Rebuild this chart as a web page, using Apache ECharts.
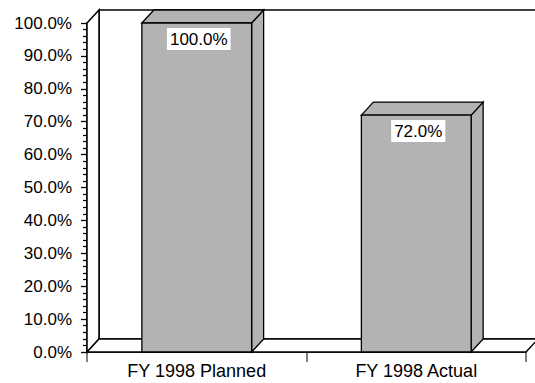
<!DOCTYPE html>
<html>
<head>
<meta charset="utf-8">
<script src="https://cdn.jsdelivr.net/npm/echarts@6/dist/echarts.min.js"></script>
<style>
  html, body { margin: 0; padding: 0; background: #fff; }
  #chart { width: 535px; height: 383px; }
</style>
</head>
<body>
<div id="chart"></div>
<script>
// Planned vs. actual share for fiscal year 1998
const categories = ['FY 1998 Planned', 'FY 1998 Actual'];
const values = [1.0, 0.72];

// axis range (fractions, shown as percentages)
const yMin = 0;
const yMax = 1;
const yStep = 0.1;

// 3-D depth offset of the box and the bars (pixels)
const DX = 12;
const DY = 13;
const BAR_COLOR = '#b3b3b3';
const LINE = '#000';
const FONT = 'Liberation Sans, Arial, sans-serif';

const pct = v => (v * 100).toFixed(1) + '%';

// side wall, back wall and floor of the 3-D box
function renderWalls(params, api) {
  const cs = params.coordSys;
  const x0 = cs.x, x1 = cs.x + cs.width;
  const y0 = cs.y, y1 = cs.y + cs.height;
  const st = { fill: '#fff', stroke: LINE, lineWidth: 1.5 };
  return {
    type: 'group',
    children: [
      { type: 'polygon', shape: { points: [[x0 + DX, y0 - DY], [x1 + DX, y0 - DY], [x1 + DX, y1 - DY], [x0 + DX, y1 - DY]] }, style: st },
      { type: 'polygon', shape: { points: [[x0, y1], [x0, y0], [x0 + DX, y0 - DY], [x0 + DX, y1 - DY]] }, style: st },
      { type: 'polygon', shape: { points: [[x0, y1], [x0 + DX, y1 - DY], [x1 + DX, y1 - DY], [x1, y1]] }, style: st }
    ]
  };
}

// one 3-D bar: front face, top, right side and value label
function renderBar(params, api) {
  const i = api.value(0);
  const v = api.value(1);
  const top = api.coord([i, v]);
  const base = api.coord([i, 0]);
  const w = api.size([1, 0])[0] * 0.5;
  const xl = top[0] - w / 2, xr = top[0] + w / 2;
  const yt = top[1], yb = base[1];
  const st = { fill: BAR_COLOR, stroke: LINE, lineWidth: 1.3 };
  return {
    type: 'group',
    children: [
      { type: 'polygon', shape: { points: [[xr, yt], [xr + DX, yt - DY], [xr + DX, yb - DY], [xr, yb]] }, style: st },
      { type: 'polygon', shape: { points: [[xl, yt], [xl + DX, yt - DY], [xr + DX, yt - DY], [xr, yt]] }, style: st },
      { type: 'rect', shape: { x: xl, y: yt, width: w, height: yb - yt }, style: st },
      {
        type: 'text',
        x: top[0] + 2,
        y: yt + 16,
        style: {
          text: pct(v),
          fill: '#000',
          font: '17px ' + FONT,
          align: 'center',
          verticalAlign: 'middle',
          backgroundColor: '#fff',
          padding: [3, 3, 2, 3]
        }
      }
    ]
  };
}

const chart = echarts.init(document.getElementById('chart'), null, { renderer: 'svg' });
chart.setOption({
  animation: false,
  backgroundColor: '#fff',
  grid: { left: 87, right: 9, top: 23, bottom: 31 },
  xAxis: {
    type: 'category',
    data: categories,
    axisLine: { show: true, lineStyle: { color: LINE, width: 1.5 } },
    axisTick: { show: true, length: 10, lineStyle: { color: '#555', width: 1.5 } },
    axisLabel: { color: '#000', fontSize: 18, fontFamily: FONT, margin: 10 },
    splitLine: { show: false }
  },
  yAxis: {
    type: 'value',
    min: yMin,
    max: yMax,
    interval: yStep,
    axisLine: { show: true, lineStyle: { color: LINE, width: 1.5 } },
    axisTick: { show: true, length: 6, lineStyle: { color: LINE, width: 1.3 } },
    minorTick: { show: true, splitNumber: 5, length: 4, lineStyle: { color: LINE, width: 1.2 } },
    axisLabel: { color: '#000', fontSize: 17, fontFamily: FONT, margin: 15, formatter: pct },
    splitLine: { show: false },
    minorSplitLine: { show: false }
  },
  series: [
    {
      type: 'custom',
      silent: true,
      renderItem: renderWalls,
      data: [[0, 0]],
      z: 1
    },
    {
      type: 'custom',
      silent: true,
      renderItem: renderBar,
      data: categories.map((c, i) => [i, values[i]]),
      z: 2
    }
  ]
});
</script>
</body>
</html>
